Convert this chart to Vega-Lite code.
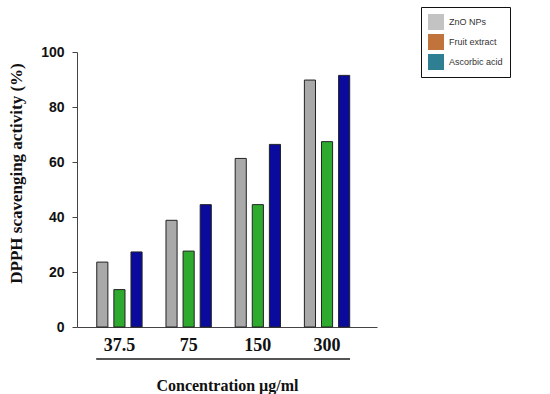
{
  "$schema": "https://vega.github.io/schema/vega-lite/v6.json",
  "width": 300,
  "height": 275,
  "autosize": "none",
  "padding": {"left": 77, "top": 52, "right": 173, "bottom": 67},
  "background": "white",
  "config": {"view": {"stroke": null}},
  "data": {
    "values": [
      {"conc": "37.5", "series": "ZnO NPs", "val": 23.6},
      {"conc": "37.5", "series": "Fruit extract", "val": 13.6},
      {"conc": "37.5", "series": "Ascorbic acid", "val": 27.3},
      {"conc": "75", "series": "ZnO NPs", "val": 38.8},
      {"conc": "75", "series": "Fruit extract", "val": 27.6},
      {"conc": "75", "series": "Ascorbic acid", "val": 44.5},
      {"conc": "150", "series": "ZnO NPs", "val": 61.3},
      {"conc": "150", "series": "Fruit extract", "val": 44.5},
      {"conc": "150", "series": "Ascorbic acid", "val": 66.4},
      {"conc": "300", "series": "ZnO NPs", "val": 89.8},
      {"conc": "300", "series": "Fruit extract", "val": 67.4},
      {"conc": "300", "series": "Ascorbic acid", "val": 91.5}
    ]
  },
  "encoding": {
    "x": {
      "field": "conc", "type": "nominal",
      "scale": {"domain": ["37.5", "75", "150", "300"], "paddingInner": 0.345, "paddingOuter": 0.34, "align": 0.42},
      "axis": {
        "title": "Concentration µg/ml", "labelAngle": 0, "ticks": false, "tickSize": 0,
        "labelFont": "Liberation Serif", "labelFontWeight": "bold", "labelFontSize": 18, "labelColor": "#111",
        "labelPadding": 9, "labelBaseline": "top",
        "domainColor": "#444", "domainWidth": 1,
        "titleFont": "Liberation Serif", "titleFontWeight": "bold", "titleFontSize": 16, "titleColor": "#111",
        "titleY": 63, "titleBaseline": "alphabetic"
      }
    },
    "y": {
      "field": "val", "type": "quantitative",
      "scale": {"domain": [0, 100], "nice": false},
      "axis": {
        "title": "DPPH scavenging activity (%)", "values": [0, 20, 40, 60, 80, 100], "grid": false,
        "tickSize": 5, "tickColor": "#444", "domainColor": "#444",
        "labelFont": "Liberation Sans", "labelFontWeight": "bold", "labelFontSize": 14, "labelColor": "#111",
        "labelPadding": 8,
        "titleFont": "Liberation Serif", "titleFontWeight": "bold", "titleFontSize": 17, "titleColor": "#111",
        "titleX": -61, "titleY": 121, "titleAngle": 270, "titleAlign": "center", "titleBaseline": "middle"
      }
    }
  },
  "layer": [
    {
      "mark": {"type": "bar", "stroke": "#222", "strokeWidth": 1},
      "encoding": {
        "xOffset": {"field": "series", "type": "nominal", "sort": ["ZnO NPs", "Fruit extract", "Ascorbic acid"],
          "scale": {"paddingInner": 0.35, "paddingOuter": 0}},
        "fill": {"field": "series", "type": "nominal",
          "scale": {"domain": ["Ascorbic acid", "Fruit extract", "ZnO NPs"], "range": ["#0a0a9c", "#2eab2e", "#a9a9a9"]},
          "legend": null}
      }
    },
    {
      "mark": {"type": "square", "size": 0, "filled": true},
      "encoding": {
        "y": {"datum": 0},
        "color": {"field": "series", "type": "nominal",
          "scale": {"domain": ["ZnO NPs", "Fruit extract", "Ascorbic acid"], "range": ["#c3c3c3", "#c0733a", "#2e7f91"]},
          "legend": {
            "title": null, "orient": "none", "legendX": 344, "legendY": -45,
            "symbolType": "square", "symbolSize": 256, "symbolStrokeWidth": 0, "symbolOpacity": 1,
            "labelFont": "Liberation Sans", "labelFontSize": 9, "labelColor": "#333", "labelOffset": 5,
            "rowPadding": 4, "padding": 7, "strokeColor": "#111"
          }}
      }
    },
    {
      "mark": {"type": "rule", "color": "#555", "strokeWidth": 1},
      "encoding": {
        "x": {"datum": "37.5", "bandPosition": 0},
        "x2": {"datum": "300", "bandPosition": 1},
        "y": {"datum": -11.6}
      }
    }
  ]
}
